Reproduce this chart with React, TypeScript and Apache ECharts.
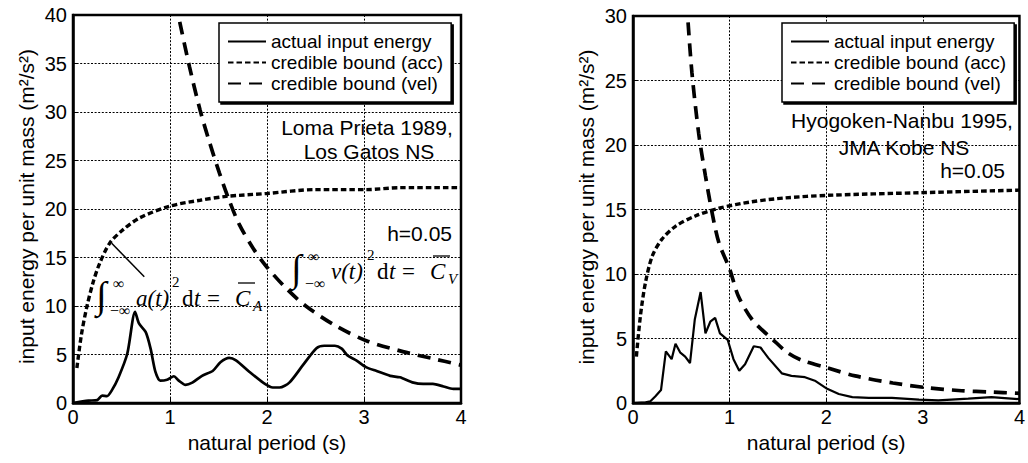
import React, { useEffect, useRef } from "react";
import * as echarts from "echarts";

// ---- axes ----
const periodTicks = [0, 1, 2, 3, 4];
const lomaEnergyTicks = [0, 5, 10, 15, 20, 25, 30, 35, 40];
const kobeEnergyTicks = [0, 5, 10, 15, 20, 25, 30];

const seriesNames = ["actual input energy", "credible bound (acc)", "credible bound (vel)"];

// ---- Loma Prieta 1989, Los Gatos NS : [period (s), energy (m2/s2)] ----
const lomaActual = [
  [0, 0], [0.16, 0.24], [0.25, 0.3], [0.3, 0.76], [0.35, 0.7], [0.4, 1.3], [0.47, 2.66],
  [0.56, 5.1], [0.64, 9.4], [0.68, 8.2], [0.75, 7.3], [0.8, 5.6], [0.85, 3.2], [0.9, 2.3],
  [0.97, 2.4], [1.04, 2.76], [1.09, 2.3], [1.16, 1.86], [1.23, 2.1], [1.33, 2.8], [1.44, 3.3],
  [1.52, 4.2], [1.61, 4.65], [1.68, 4.4], [1.82, 3.2], [1.96, 2.1], [2.06, 1.6], [2.13, 1.6],
  [2.23, 2.1], [2.37, 3.9], [2.51, 5.65], [2.59, 5.9], [2.7, 5.9], [2.77, 5.6], [2.83, 4.9],
  [2.92, 4.4], [3.02, 3.7], [3.13, 3.3], [3.27, 2.8], [3.37, 2.65], [3.51, 2.1], [3.61, 1.97],
  [3.71, 1.97], [3.82, 1.7], [3.92, 1.45], [4.0, 1.45],
];
const lomaAcc = [
  [0.04, 3.6], [0.086, 7.0], [0.14, 9.8], [0.206, 12.4], [0.275, 14.4], [0.38, 16.5],
  [0.52, 17.9], [0.69, 19.1], [1.0, 20.3], [1.31, 20.9], [1.58, 21.3], [2.0, 21.6],
  [2.5, 22.0], [3.03, 22.0], [3.37, 22.2], [4.0, 22.2],
];
const lomaVel = [
  [1.1, 39.3], [1.2, 34.7], [1.31, 30.2], [1.41, 26.8], [1.51, 23.7], [1.61, 20.9],
  [1.71, 18.5], [1.86, 15.9], [2.0, 14.0], [2.2, 11.8], [2.4, 10.0], [2.7, 8.0],
  [3.03, 6.4], [3.4, 5.3], [3.7, 4.6], [4.0, 3.9],
];

// ---- Hyogoken-Nanbu 1995, JMA Kobe NS ----
const kobeActual = [
  [0, 0], [0.13, 0.05], [0.18, 0.13], [0.23, 0.5], [0.29, 1.0], [0.34, 4.0], [0.4, 3.4],
  [0.44, 4.6], [0.49, 3.9], [0.54, 3.6], [0.59, 3.1], [0.64, 6.5], [0.7, 8.6], [0.75, 5.4],
  [0.8, 6.3], [0.85, 6.6], [0.9, 5.4], [0.98, 4.9], [1.04, 3.4], [1.1, 2.5], [1.16, 3.0],
  [1.25, 4.4], [1.32, 4.3], [1.4, 3.5], [1.54, 2.3], [1.64, 2.1], [1.78, 2.0], [1.89, 1.7],
  [2.01, 1.1], [2.13, 0.7], [2.27, 0.46], [2.44, 0.39], [2.68, 0.39], [2.96, 0.26],
  [3.16, 0.2], [3.47, 0.34], [3.71, 0.46], [4.0, 0.3],
];
const kobeAcc = [
  [0.035, 3.6], [0.076, 6.7], [0.128, 9.3], [0.2, 11.4], [0.3, 12.7], [0.44, 13.7],
  [0.645, 14.5], [0.89, 15.1], [1.23, 15.6], [1.58, 15.9], [2.02, 16.1], [2.96, 16.3],
  [4.0, 16.5],
];
const kobeVel = [
  [0.57, 29.5], [0.61, 25.6], [0.68, 20.9], [0.75, 17.6], [0.82, 14.7], [0.89, 12.4],
  [1.0, 10.4], [1.09, 8.3], [1.24, 6.4], [1.45, 4.9], [1.6, 3.9], [1.75, 3.3], [2.0, 2.75],
  [2.3, 2.1], [2.69, 1.55], [3.03, 1.2], [3.4, 0.95], [3.7, 0.85], [4.0, 0.75],
];

const SANS = '"Liberation Sans", Arial, sans-serif';
const SERIF = '"Liberation Serif", "Times New Roman", serif';
const GRID_DOT = [2, 1.6];

function txt(text: string, x: number, y: number, size: number, opts: any = {}) {
  const align = opts.align || "left";
  return {
    type: "text",
    silent: true,
    z: 3,
    style: {
      text,
      x,
      y,
      fill: "#000",
      fontSize: size,
      fontFamily: opts.family || SANS,
      fontStyle: opts.italic ? "italic" : "normal",
      align,
      textAlign: align,
      verticalAlign: "middle",
      textVerticalAlign: "middle",
    },
  };
}

function formula(x0: number, y0: number, fn: string, sub: string) {
  const it = { family: SERIF, italic: true };
  const up = { family: SERIF };
  return [
    txt("\u222B", x0, y0 - 3, 38, up),
    txt("\u221E", x0 + 17, y0 - 15, 16, up),
    txt("\u2212\u221E", x0 + 14, y0 + 12, 16, up),
    txt(fn, x0 + 40, y0, 23, it),
    txt("2", x0 + 76, y0 - 16, 15, up),
    txt("d", x0 + 86, y0, 23, up),
    txt("t", x0 + 98, y0, 23, it),
    txt("=", x0 + 111, y0, 23, up),
    txt("C", x0 + 139, y0, 23, it),
    {
      type: "line",
      silent: true,
      z: 3,
      shape: { x1: x0 + 142, y1: y0 - 15, x2: x0 + 159, y2: y0 - 15 },
      style: { stroke: "#000", lineWidth: 1.3 },
    },
    txt(sub, x0 + 157, y0 + 8, 15, it),
  ];
}

function axisPair(gridIndex: number, yTicks: number[]) {
  const common = {
    gridIndex,
    type: "value",
    axisLine: { show: true, lineStyle: { color: "#000", width: 2.5 } },
    axisTick: { show: true, inside: true, length: 5, lineStyle: { color: "#000", width: 1 } },
    axisLabel: { color: "#000", fontSize: 20, fontFamily: SANS },
    splitLine: { show: true, lineStyle: { color: "#000", width: 1, type: GRID_DOT } },
    nameLocation: "middle",
    nameTextStyle: { color: "#000", fontSize: 21, fontFamily: SANS },
  };
  const x = {
    ...common,
    min: periodTicks[0],
    max: periodTicks[periodTicks.length - 1],
    interval: periodTicks[1] - periodTicks[0],
    name: "natural period (s)",
    nameGap: 23,
    axisLabel: { ...common.axisLabel, margin: 4 },
  };
  const y = {
    ...common,
    min: yTicks[0],
    max: yTicks[yTicks.length - 1],
    interval: yTicks[1] - yTicks[0],
    name: "input energy per unit mass (m\u00B2/s\u00B2)",
    nameGap: 36,
    nameTextStyle: { ...common.nameTextStyle, fontSize: 21, padding: [0, 0, 0, 5] },
    axisLabel: { ...common.axisLabel, margin: 6 },
  };
  return { x, y };
}

function seriesFor(idx: number, actual: number[][], acc: number[][], vel: number[][], solidW: number) {
  return [
    {
      name: seriesNames[0], type: "line", xAxisIndex: idx, yAxisIndex: idx, data: actual,
      symbol: "none", smooth: idx === 0 ? 0.25 : 0,
      lineStyle: { color: "#000", width: solidW, type: "solid" },
      itemStyle: { color: "#000" },
    },
    {
      name: seriesNames[1], type: "line", xAxisIndex: idx, yAxisIndex: idx, data: acc,
      symbol: "none", smooth: 0.3,
      lineStyle: { color: "#000", width: 3.4, type: [5.5, 3] },
      itemStyle: { color: "#000" },
    },
    {
      name: seriesNames[2], type: "line", xAxisIndex: idx, yAxisIndex: idx, data: vel,
      symbol: "none", smooth: 0.3,
      lineStyle: { color: "#000", width: 3.7, type: [13, 8] },
      itemStyle: { color: "#000" },
    },
  ];
}

function legendAt(left: number) {
  return {
    data: seriesNames,
    orient: "vertical",
    left,
    top: 23,
    padding: [8, 8, 8, 8],
    itemGap: 0,
    itemWidth: 38,
    itemHeight: 14,
    selectedMode: false,
    backgroundColor: "#fff",
    borderColor: "#000",
    borderWidth: 1.5,
    borderRadius: 0,
    shadowColor: "#000",
    shadowBlur: 0,
    shadowOffsetX: 2,
    shadowOffsetY: 2,
    itemStyle: { opacity: 0, borderWidth: 0 },
    textStyle: { color: "#000", fontSize: 19, fontFamily: SANS, lineHeight: 21 },
  };
}

export default function App() {
  const ref = useRef<HTMLDivElement>(null);
  useEffect(() => {
    if (!ref.current) return;
    const chart = echarts.init(ref.current, undefined, { renderer: "svg" });
    const a0 = axisPair(0, lomaEnergyTicks);
    const a1 = axisPair(1, kobeEnergyTicks);
    chart.setOption({
      animation: false,
      backgroundColor: "#fff",
      grid: [
        { left: 73, top: 15, width: 388, height: 388, show: true, borderColor: "#000", borderWidth: 2.5, backgroundColor: "transparent" },
        { left: 633, top: 16, width: 388, height: 387, show: true, borderColor: "#000", borderWidth: 2.5, backgroundColor: "transparent" },
      ],
      xAxis: [a0.x, a1.x],
      yAxis: [a0.y, a1.y],
      legend: [legendAt(219), legendAt(782)],
      series: [
        ...seriesFor(0, lomaActual, lomaAcc, lomaVel, 2.7),
        ...seriesFor(1, kobeActual, kobeAcc, kobeVel, 2.2),
      ],
      graphic: [
        txt("Loma Prieta 1989,", 367, 127, 21, { align: "center" }),
        txt("Los Gatos NS", 369, 151, 21, { align: "center" }),
        txt("h=0.05", 452, 233, 21, { align: "right" }),
        txt("Hyogoken-Nanbu 1995,", 902, 120, 21, { align: "center" }),
        txt("JMA Kobe NS", 904, 147, 21, { align: "center" }),
        txt("h=0.05", 1005, 170, 21, { align: "right" }),
        {
          type: "line",
          silent: true,
          z: 3,
          shape: { x1: 111.7, y1: 243.3, x2: 144.3, y2: 276.7 },
          style: { stroke: "#000", lineWidth: 1.5 },
        },
        ...formula(96, 298, "a(t)", "A"),
        ...formula(291, 271, "v(t)", "V"),
      ],
    });
    return () => chart.dispose();
  }, []);
  return (
    <div
      ref={ref}
      style={{ position: "fixed", left: 0, top: 0, width: 1028, height: 463, background: "#fff" }}
    />
  );
}
